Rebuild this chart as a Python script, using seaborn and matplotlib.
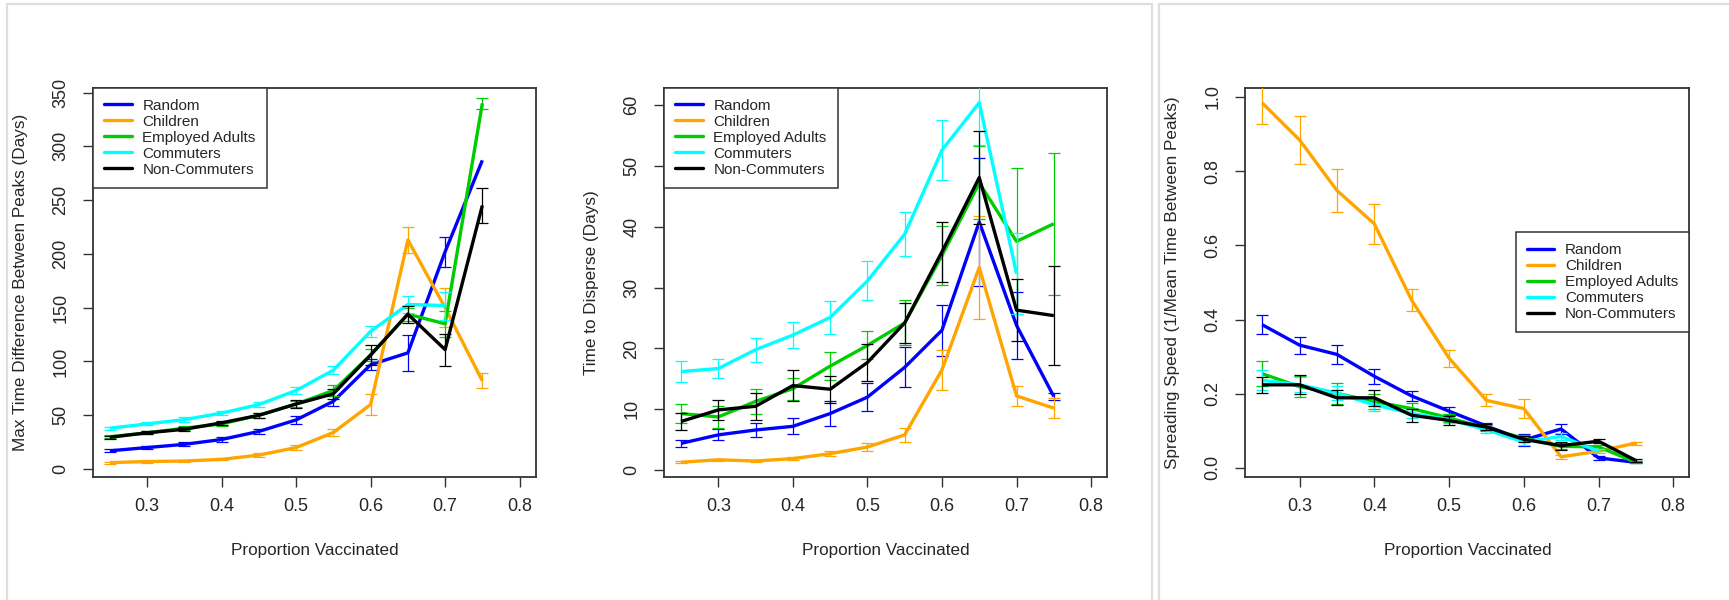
import numpy as np
import pandas as pd
import matplotlib
matplotlib.use("Agg")
import matplotlib.pyplot as plt
from matplotlib.lines import Line2D
import seaborn as sns

# ---- data -------------------------------------------------------------
proportion = [0.25, 0.30, 0.35, 0.40, 0.45, 0.50, 0.55, 0.60, 0.65, 0.70, 0.75]
strategies = ["Random", "Children", "Employed Adults", "Commuters", "Non-Commuters"]
colors = ["#0000FF", "#FFA500", "#00CD00", "#00FFFF", "#000000"]
nan = np.nan

# Max time difference between peaks (days)
max_gap = {
    "Random":          [17, 20, 23, 27.5, 35, 45.7, 63, 97, 108, 202, 287],
    "Children":        [6, 7, 7.5, 9, 13, 20, 34, 60, 213, 150, 82],
    "Employed Adults": [30, 33.7, 38, 42, 50, 60.5, 73, 106, 144, 135, 340],
    "Commuters":       [38, 42, 46, 52, 60, 73, 92, 128, 153, 152, nan],
    "Non-Commuters":   [29.6, 33.7, 37, 43, 50, 60.5, 70, 106, 144, 111, 245],
}
max_gap_err = {
    "Random":          [1.5, 1.5, 2, 2, 2.5, 3.5, 4.5, 5, 17, 14, nan],
    "Children":        [1, 1, 1, 1, 1.5, 2, 3, 10, 12, 18, 7],
    "Employed Adults": [1.5, 1.5, 2, 2, 2.5, 3, 5, 6, 6, 12, 5],
    "Commuters":       [1.5, 1.5, 2, 2, 2.5, 3, 4, 5, 8, 13, nan],
    "Non-Commuters":   [1.5, 1.5, 2, 2, 2.5, 3.5, 4.5, 9, 8, 15, 16],
}

# Time to disperse (days)
disperse = {
    "Random":          [4.4, 5.8, 6.6, 7.2, 9.3, 12.0, 16.9, 23.0, 40.8, 23.8, 12.1],
    "Children":        [1.3, 1.7, 1.5, 1.9, 2.7, 3.8, 5.8, 16.5, 33.3, 12.2, 10.2],
    "Employed Adults": [9.3, 8.75, 11.3, 13.4, 17.1, 20.5, 24.2, 35.3, 47.2, 37.6, 40.5],
    "Commuters":       [16.2, 16.7, 19.8, 22.2, 25.1, 31.1, 38.8, 52.6, 60.4, 32.3, nan],
    "Non-Commuters":   [8.0, 9.9, 10.5, 13.9, 13.3, 17.7, 24.2, 35.9, 48.1, 26.3, 25.4],
}
disperse_err = {
    "Random":          [0.6, 0.9, 1.2, 1.3, 2.0, 2.3, 3.3, 4.2, 10.5, 5.5, 0.5],
    "Children":        [0.2, 0.2, 0.2, 0.3, 0.4, 0.6, 1.1, 3.3, 8.5, 1.7, 1.7],
    "Employed Adults": [1.6, 1.8, 2.0, 1.8, 2.3, 2.3, 3.7, 4.8, 6.0, 12.0, 11.7],
    "Commuters":       [1.7, 1.6, 2.0, 2.1, 2.7, 3.2, 3.6, 4.9, 7.0, 6.7, nan],
    "Non-Commuters":   [1.4, 1.6, 2.2, 2.5, 2.2, 3.1, 3.3, 4.9, 7.6, 5.1, 8.1],
}

# Spreading speed (1 / mean time between peaks)
speed = {
    "Random":          [0.386, 0.331, 0.306, 0.247, 0.194, 0.153, 0.113, 0.075, 0.105, 0.027, 0.015],
    "Children":        [0.984, 0.884, 0.748, 0.658, 0.452, 0.296, 0.182, 0.160, 0.030, 0.045, 0.067],
    "Employed Adults": [0.254, 0.219, 0.201, 0.179, 0.160, 0.135, 0.107, 0.080, 0.058, 0.057, 0.015],
    "Commuters":       [0.236, 0.224, 0.202, 0.170, 0.147, 0.130, 0.103, 0.070, 0.085, 0.045, nan],
    "Non-Commuters":   [0.224, 0.224, 0.189, 0.189, 0.142, 0.128, 0.110, 0.077, 0.060, 0.072, 0.020],
}
speed_err = {
    "Random":          [0.026, 0.023, 0.025, 0.021, 0.013, 0.010, 0.008, 0.016, 0.013, 0.005, 0.003],
    "Children":        [0.056, 0.066, 0.059, 0.054, 0.030, 0.023, 0.016, 0.026, 0.005, 0.005, 0.004],
    "Employed Adults": [0.033, 0.028, 0.028, 0.020, 0.015, 0.010, 0.008, 0.008, 0.008, 0.006, 0.003],
    "Commuters":       [0.027, 0.020, 0.020, 0.016, 0.012, 0.010, 0.008, 0.008, 0.010, 0.006, nan],
    "Non-Commuters":   [0.021, 0.026, 0.020, 0.022, 0.017, 0.012, 0.008, 0.008, 0.011, 0.006, 0.004],
}

x_ticks = [0.3, 0.4, 0.5, 0.6, 0.7, 0.8]
x_tick_labels = ["0.3", "0.4", "0.5", "0.6", "0.7", "0.8"]

# ---- styling ----------------------------------------------------------
sns.set_theme(style="white")
plt.rcParams["font.family"] = ["Liberation Sans", "DejaVu Sans"]
INK = "#262626"
FRAME = "#333333"

W, H = 1729, 600
fig = plt.figure(figsize=(W / 100, H / 100), dpi=100)
fig.patch.set_facecolor("white")


def axes_px(left, right, top, bottom):
    return fig.add_axes([left / W, 1 - bottom / H, (right - left) / W, (bottom - top) / H])


def long_form(values):
    rows = []
    for s in strategies:
        for p, v in zip(proportion, values[s]):
            rows.append({"proportion": p, "value": v, "strategy": s})
    return pd.DataFrame(rows).dropna()


def draw_panel(ax, values, errors, ylim, yticks, ytick_labels, ylabel, legend_loc):
    df = long_form(values)
    sns.lineplot(data=df, x="proportion", y="value", hue="strategy",
                 hue_order=strategies, palette=colors, estimator=None,
                 sort=False, errorbar=None, linewidth=2.4, legend=False, ax=ax)
    for i, line in enumerate(ax.lines):
        line.set_zorder(3 + 2 * i)
        line.set_solid_capstyle("butt")
    for i, (s, c) in enumerate(zip(strategies, colors)):
        ax.errorbar(proportion, values[s], yerr=errors[s], fmt="none",
                    ecolor=c, elinewidth=0.9, capsize=4.5, capthick=0.9,
                    zorder=4 + 2 * i)

    ax.set_xlim(0.2275, 0.8215)
    ax.set_ylim(*ylim)
    ax.set_xticks(x_ticks)
    ax.set_xticklabels(x_tick_labels)
    ax.set_yticks(yticks)
    ax.set_yticklabels(ytick_labels, rotation=90, va="center", ha="right")
    ax.tick_params(axis="both", direction="out", length=7.2, width=1.0,
                   color=FRAME, labelsize=13, labelcolor=INK,
                   bottom=True, left=True)
    ax.tick_params(axis="x", pad=7.5)
    ax.tick_params(axis="y", pad=10.0)
    for sp in ax.spines.values():
        sp.set_visible(True)
        sp.set_color(FRAME)
        sp.set_linewidth(1.3)
    ax.set_facecolor("white")

    ax.set_xlabel("Proportion Vaccinated", fontsize=12.3, color=INK)
    ax.set_ylabel(ylabel, fontsize=12.3, color=INK)
    ax.xaxis.label.set_va("center")
    ax.yaxis.label.set_va("center")
    ax.xaxis.set_label_coords(0.5, -(550 - 477.2) / 389.5)
    ax.yaxis.set_label_coords(-73 / 442.4, 0.5)

    handles = [Line2D([0], [0], color=c, lw=2.4) for c in colors]
    leg = ax.legend(handles, strategies, loc=legend_loc, frameon=True,
                    fancybox=False, framealpha=1, edgecolor=FRAME,
                    borderaxespad=0, fontsize=11, handlelength=1.8,
                    handletextpad=0.7, labelspacing=0.13, borderpad=0.72)
    leg.get_frame().set_linewidth(1.1)
    for t in leg.get_texts():
        t.set_color(INK)
    leg.set_zorder(20)


top, bottom = 87.7, 477.2
ax1 = axes_px(93.2, 535.6, top, bottom)
ax2 = axes_px(664.3, 1107.1, top, bottom)
ax3 = axes_px(1245.4, 1689.3, top, bottom)

draw_panel(ax1, max_gap, max_gap_err, (-7.56, 354.5),
           [0, 50, 100, 150, 200, 250, 300, 350],
           ["0", "50", "100", "150", "200", "250", "300", "350"],
           "Max Time Difference Between Peaks (Days)", "upper left")
draw_panel(ax2, disperse, disperse_err, (-1.16, 62.86),
           [0, 10, 20, 30, 40, 50, 60],
           ["0", "10", "20", "30", "40", "50", "60"],
           "Time to Disperse (Days)", "upper left")
draw_panel(ax3, speed, speed_err, (-0.025, 1.025),
           [0.0, 0.2, 0.4, 0.6, 0.8, 1.0],
           ["0.0", "0.2", "0.4", "0.6", "0.8", "1.0"],
           "Spreading Speed (1/Mean Time Between Peaks)", "center right")

# light panel frames around the figure groups
def frame_line(x0, y0, x1, y1):
    fig.add_artist(Line2D([x0 / W, x1 / W], [1 - y0 / H, 1 - y1 / H],
                          color="#dedede", lw=1.6, transform=fig.transFigure))

frame_line(6.5, 4, 1152, 4)
frame_line(6.5, 4, 6.5, 600)
frame_line(1152, 4, 1152, 600)
frame_line(1158.7, 4, 1729, 4)
frame_line(1158.7, 4, 1158.7, 600)

fig.savefig("out.png", dpi=100, facecolor="white")
